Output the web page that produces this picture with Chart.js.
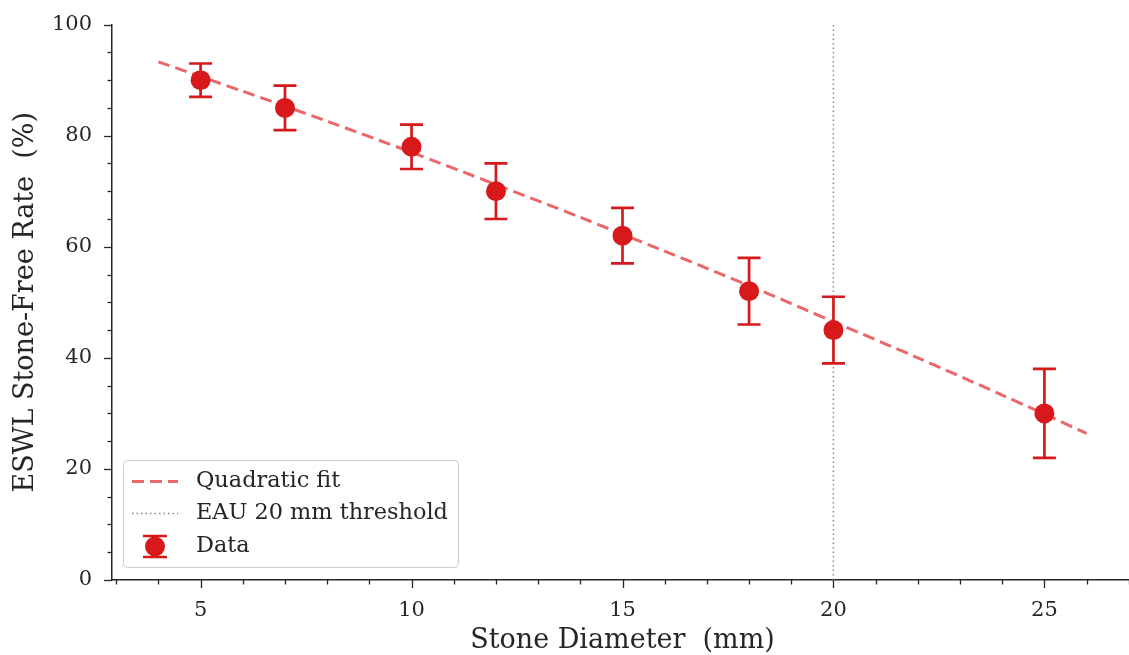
<!DOCTYPE html>
<html><head><meta charset="utf-8">
<script src="https://cdn.jsdelivr.net/npm/chart.js@4.4.1/dist/chart.umd.min.js"></script>
<style>html,body{margin:0;padding:0;background:#fff;overflow:hidden;width:1129px;height:655px}</style>
</head><body>
<canvas id="c" width="1143" height="655" style="width:1143px;height:655px;display:block"></canvas>
<script>
const diameters = [5, 7, 10, 12, 15, 18, 20, 25];
const sfRates = [90, 85, 78, 70, 62, 52, 45, 30];
const sfErrors = [3, 4, 4, 5, 5, 6, 6, 8];
const fitX = [4, 6, 8, 10, 12, 14, 16, 18, 20, 22, 24, 26];
const fitY = [93.3, 88.0, 82.6, 77.0, 71.2, 65.3, 59.2, 53.0, 46.5, 40.0, 33.3, 26.4];
const thresholdX = 20;
const xTicksMajor = [5, 10, 15, 20, 25];
const yTicksMajor = [0, 20, 40, 60, 80, 100];
const legendLabels = ['Quadratic fit', 'EAU 20 mm threshold', 'Data'];
const xTitle = 'Stone Diameter  (mm)';
const yTitle = 'ESWL Stone-Free Rate  (%)';

const RED = '#d7191c';
const FIT = 'rgba(228,60,64,0.78)';
const GRAY = '#888888';
const INK = '#262626';
const FONT = "'DejaVu Serif', serif";
const CAP = 11.5;

const errorBarPlugin = {
  id: 'errorBars',
  beforeDatasetDraw(chart, args) {
    if (args.index !== 0) return;
    const {ctx, scales: {x, y}} = chart;
    ctx.save();
    ctx.strokeStyle = RED; ctx.lineWidth = 2.7; ctx.lineCap = 'butt';
    diameters.forEach((d, i) => {
      const px = x.getPixelForValue(d);
      const lo = y.getPixelForValue(sfRates[i] - sfErrors[i]);
      const hi = y.getPixelForValue(sfRates[i] + sfErrors[i]);
      ctx.beginPath();
      ctx.moveTo(px, lo); ctx.lineTo(px, hi);
      ctx.moveTo(px - CAP, lo); ctx.lineTo(px + CAP, lo);
      ctx.moveTo(px - CAP, hi); ctx.lineTo(px + CAP, hi);
      ctx.stroke();
    });
    ctx.restore();
  }
};

const tickPlugin = {
  id: 'tickMarks',
  afterDraw(chart) {
    const {ctx, scales: {x, y}, chartArea} = chart;
    ctx.save();
    ctx.strokeStyle = INK; ctx.lineWidth = 1.3;
    x.ticks.forEach(t => {
      const px = Math.round(x.getPixelForValue(t.value)) + 0.5;
      const len = xTicksMajor.includes(t.value) ? 8 : 4.5;
      ctx.beginPath(); ctx.moveTo(px, chartArea.bottom); ctx.lineTo(px, chartArea.bottom + len); ctx.stroke();
    });
    y.ticks.forEach(t => {
      const py = Math.round(y.getPixelForValue(t.value)) + 0.5;
      const len = yTicksMajor.includes(t.value) ? 8 : 4.5;
      ctx.beginPath(); ctx.moveTo(chartArea.left, py); ctx.lineTo(chartArea.left - len, py); ctx.stroke();
    });
    ctx.restore();
  }
};

const legendPlugin = {
  id: 'boxLegend',
  afterDraw(chart) {
    const ctx = chart.ctx;
    const bx = 123, by = 460.5, bw = 335, bh = 107, r = 4;
    ctx.save();
    ctx.fillStyle = 'rgba(255,255,255,0.85)';
    ctx.strokeStyle = '#cccccc'; ctx.lineWidth = 1;
    ctx.beginPath();
    ctx.roundRect(bx + 0.5, by, bw, bh, r);
    ctx.fill(); ctx.stroke();
    const rows = [481.5, 513.5, 546.5];
    ctx.strokeStyle = FIT; ctx.lineWidth = 3; ctx.setLineDash([12, 6]);
    ctx.beginPath(); ctx.moveTo(132, rows[0]); ctx.lineTo(178, rows[0]); ctx.stroke();
    ctx.strokeStyle = GRAY; ctx.lineWidth = 1.5; ctx.setLineDash([1.5, 3]);
    ctx.beginPath(); ctx.moveTo(132, rows[1]); ctx.lineTo(178, rows[1]); ctx.stroke();
    ctx.setLineDash([]);
    ctx.strokeStyle = RED; ctx.lineWidth = 2.7;
    ctx.beginPath();
    ctx.moveTo(155, rows[2] - 10.5); ctx.lineTo(155, rows[2] + 10.5);
    ctx.moveTo(143, rows[2] - 10.5); ctx.lineTo(167, rows[2] - 10.5);
    ctx.moveTo(143, rows[2] + 10.5); ctx.lineTo(167, rows[2] + 10.5);
    ctx.stroke();
    ctx.fillStyle = RED;
    ctx.beginPath(); ctx.arc(155, rows[2], 10, 0, Math.PI * 2); ctx.fill();
    ctx.fillStyle = INK; ctx.font = '22.4px ' + FONT; ctx.textBaseline = 'middle'; ctx.textAlign = 'left';
    legendLabels.forEach((l, i) => ctx.fillText(l, 196, rows[i]));
    ctx.restore();
  }
};

new Chart(document.getElementById('c'), {
  type: 'line',
  data: {
    datasets: [
      {
        label: legendLabels[2],
        data: diameters.map((d, i) => ({x: d, y: sfRates[i]})),
        showLine: false,
        pointRadius: 10, pointHoverRadius: 10,
        pointBackgroundColor: RED, pointBorderColor: RED, pointBorderWidth: 0,
        clip: false
      },
      {
        label: legendLabels[0],
        data: fitX.map((d, i) => ({x: d, y: fitY[i]})),
        borderColor: FIT, borderWidth: 3, borderDash: [12, 6],
        pointRadius: 0, tension: 0.3, fill: false
      },
      {
        label: legendLabels[1],
        data: [{x: thresholdX, y: 0}, {x: thresholdX, y: 100}],
        borderColor: GRAY, borderWidth: 1.5, borderDash: [1.5, 3],
        pointRadius: 0, fill: false
      }
    ]
  },
  options: {
    responsive: false,
    animation: false,
    devicePixelRatio: 1,
    layout: {padding: {top: 22.5, right: 4, left: 0, bottom: 0}},
    plugins: {legend: {display: false}, tooltip: {enabled: false}},
    scales: {
      x: {
        type: 'linear', min: 2.9, max: 27.1,
        grid: {display: false},
        border: {display: true, color: INK, width: 1.5},
        ticks: {
          stepSize: 1, includeBounds: false, autoSkip: false, maxRotation: 0,
          color: INK, font: {family: FONT, size: 21}, padding: 10,
          callback: v => xTicksMajor.includes(v) ? String(v) : ''
        },
        title: {display: true, text: xTitle, color: INK, font: {family: FONT, size: 27, lineHeight: 1}, padding: {top: 0, bottom: 1}},
        afterFit: s => { s.height = 75; }
      },
      y: {
        type: 'linear', min: 0, max: 100,
        grid: {display: false},
        border: {display: true, color: INK, width: 1.5},
        ticks: {
          stepSize: 5, autoSkip: false,
          color: INK, font: {family: FONT, size: 21}, padding: 12,
          callback: v => yTicksMajor.includes(v) ? String(v) : ''
        },
        title: {display: true, text: yTitle, color: INK, font: {family: FONT, size: 27, lineHeight: 1}, padding: {top: 12, bottom: 0}},
        afterFit: s => { s.width = 112; }
      }
    }
  },
  plugins: [errorBarPlugin, tickPlugin, legendPlugin]
});
</script>
</body></html>
